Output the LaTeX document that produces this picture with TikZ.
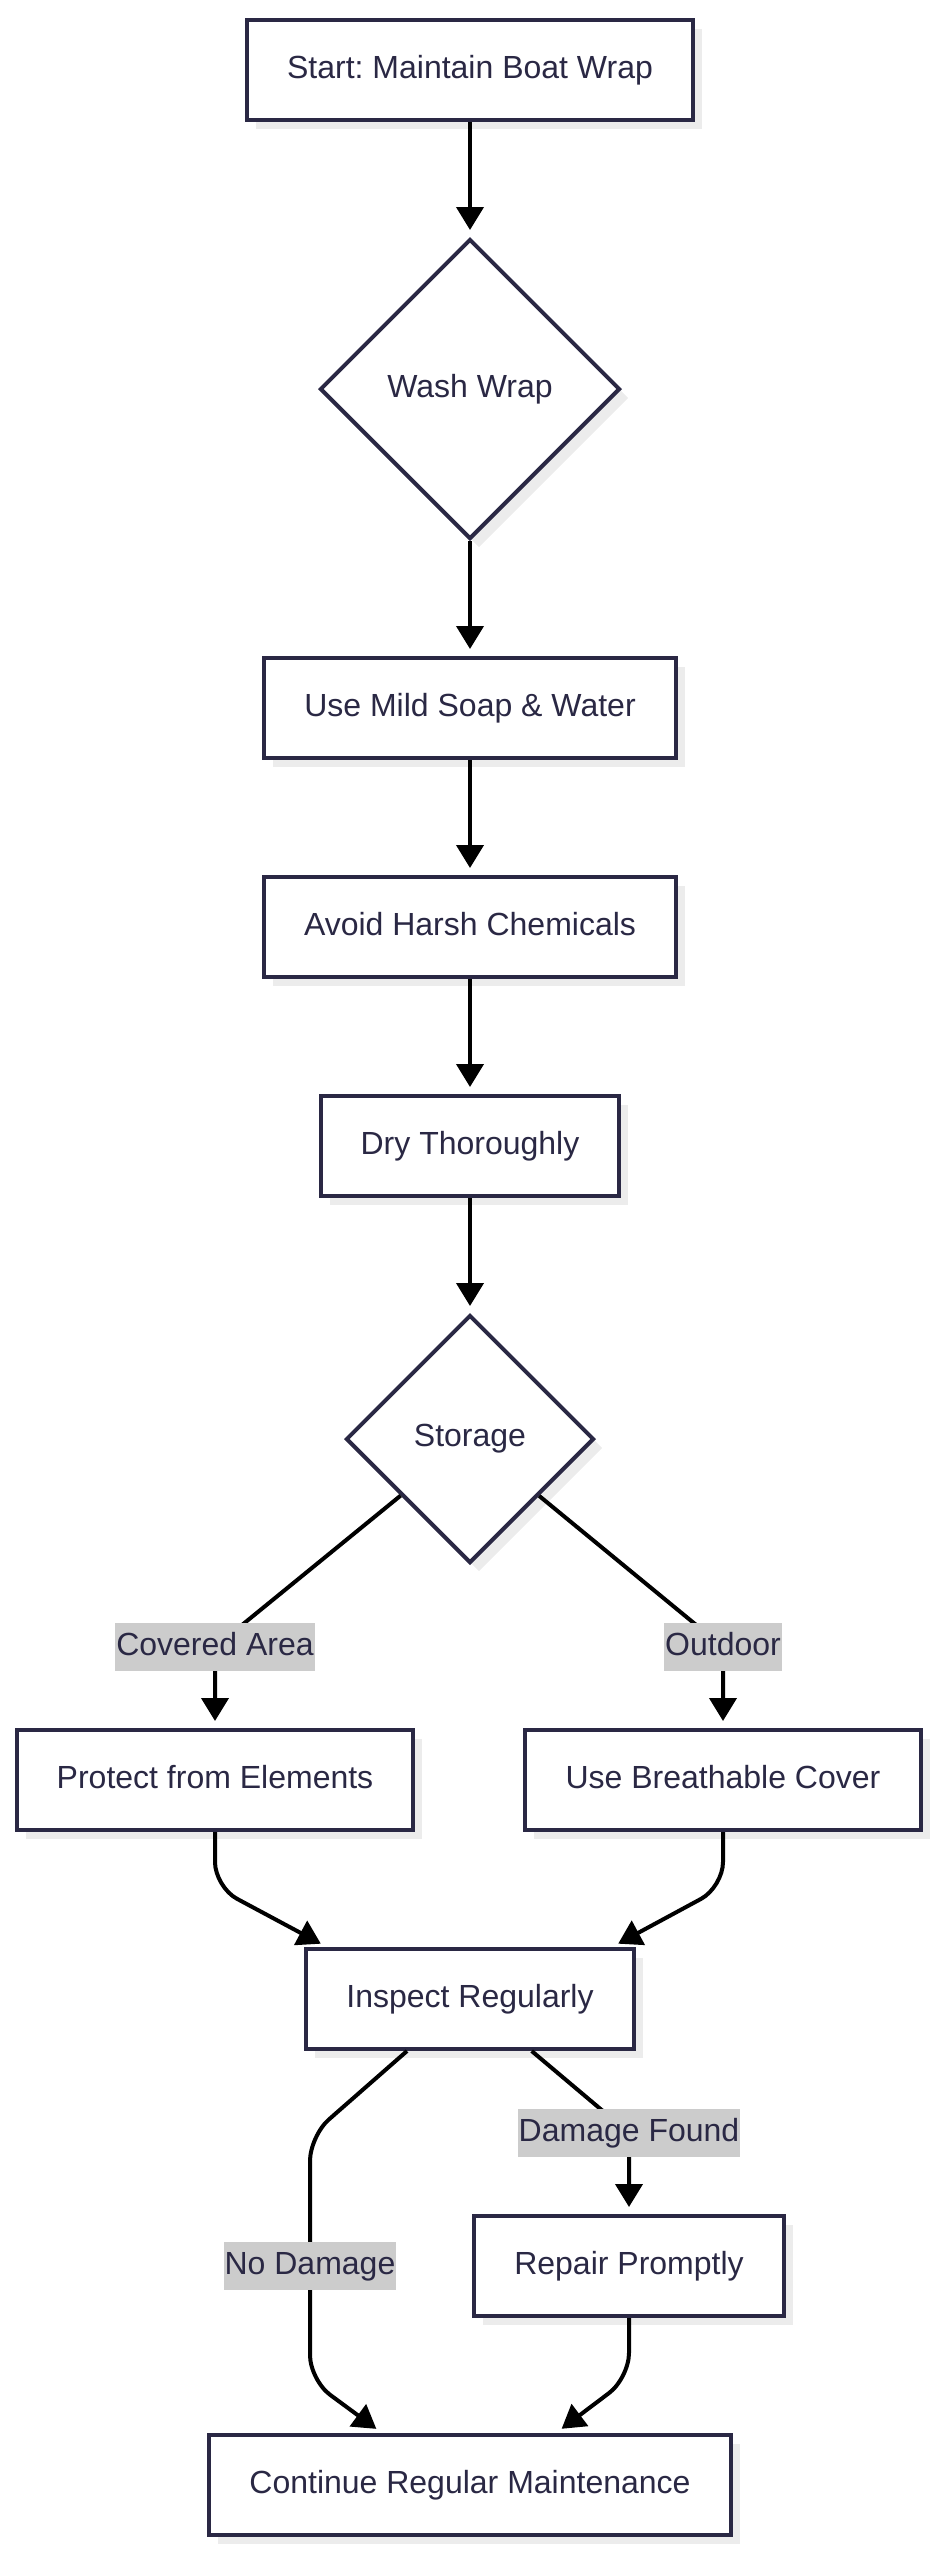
\documentclass[tikz,border=0pt]{standalone}
\usepackage{fontspec}
\setmainfont{Liberation Sans}
\usetikzlibrary{positioning, shapes.geometric, arrows.meta, shadows, calc}
\frenchspacing

\definecolor{inkline}{RGB}{42,40,68}
\definecolor{shadegray}{RGB}{236,236,236}
\definecolor{labelgray}{RGB}{204,204,204}

\tikzset{
  box/.style={rectangle, draw=inkline, line width=4pt, fill=white,
    text=inkline, minimum height=100pt, inner xsep=40pt,
    text height=23pt, text depth=7pt,
    drop shadow={shadow xshift=9pt, shadow yshift=-9pt,
      fill=shadegray, opacity=1}},
  choice/.style={diamond, aspect=1, draw=inkline, line width=4pt,
    fill=white, text=inkline, inner sep=0pt,
    drop shadow={shadow xshift=9pt, shadow yshift=-9pt,
      fill=shadegray, opacity=1}},
  flow/.style={line width=4pt, draw=black, line join=round,
    -{Triangle[length=23pt,width=27pt]}, shorten >=7pt},
  lbl/.style={sharp corners, fill=labelgray, text=inkline, inner xsep=1pt,
    inner ysep=0pt, minimum height=48pt,
    text height=23pt, text depth=7pt},
}

\begin{document}
\begin{tikzpicture}[x=1pt, y=-1pt, font=\fontsize{32pt}{38pt}\selectfont]
\useasboundingbox (0,0) rectangle (938,2560);

\node[box] (start) at (470,70) {Start: Maintain Boat Wrap};
\node[choice, minimum size=300pt, below=115pt of start] (wash) {Wash Wrap};
\node[box, below=115pt of wash] (soap) {Use Mild Soap \& Water};
\node[box, below=115pt of soap] (avoid) {Avoid Harsh Chemicals};
\node[box, below=115pt of avoid] (dry) {Dry Thoroughly};
\node[choice, minimum size=248pt, below=115pt of dry] (storage) {Storage};

\node[box, minimum width=396pt, below=163pt of storage, xshift=-255pt]
    (protect) {Protect from Elements};
\node[box, minimum width=396pt, below=163pt of storage, xshift=253pt]
    (cover) {Use Breathable Cover};
\node[box, below=115pt of protect, xshift=255pt] (inspect) {Inspect Regularly};
\node[box, below=163pt of inspect, xshift=159pt] (repair) {Repair Promptly};
\node[box, below=115pt of repair, xshift=-159pt]
    (continue) {Continue Regular Maintenance};

% bends and label points
\coordinate (kcov) at ([yshift=81pt]protect.north);
\coordinate (kout) at ([yshift=81pt]cover.north);
\coordinate (kdam) at ([yshift=81pt]repair.north);
\coordinate (kprot) at ($(protect.south)+(0,55)$);
\coordinate (kcover) at ($(cover.south)+(0,55)$);
\coordinate (knd1) at ($(inspect.south)+(-160,85)$);
\coordinate (knd2) at ($(continue.north)+(-160,-53)$);
\coordinate (kno) at (knd1 |- repair);
\coordinate (kfix) at ($(repair.south)+(0,60)$);

\draw[flow] (start) -- (wash);
\draw[flow] (wash) -- (soap);
\draw[flow] (soap) -- (avoid);
\draw[flow] (avoid) -- (dry);
\draw[flow] (dry) -- (storage);

\draw[flow] (storage) -- (kcov) node[lbl] (lcov) {Covered Area} -- (protect);
\draw[flow] (storage) -- (kout) node[lbl] (lout) {Outdoor} -- (cover);

\draw[flow, rounded corners=25pt]
    (protect.south) -- (kprot) -- ([xshift=-143pt]inspect.north);
\draw[flow, rounded corners=25pt]
    (cover.south) -- (kcover) -- ([xshift=142pt]inspect.north);

\draw[flow] (inspect) -- (kdam) node[lbl] (ldam) {Damage Found} -- (repair);
\draw[flow, rounded corners=25pt]
    ([xshift=-63pt]inspect.south) -- (knd1)
    -- (kno) node[lbl] (lno) {No Damage}
    -- (knd2) -- ([xshift=-88pt]continue.north);
\draw[flow, rounded corners=25pt]
    (repair.south) -- (kfix) -- ([xshift=86pt]continue.north);
\end{tikzpicture}
\end{document}
